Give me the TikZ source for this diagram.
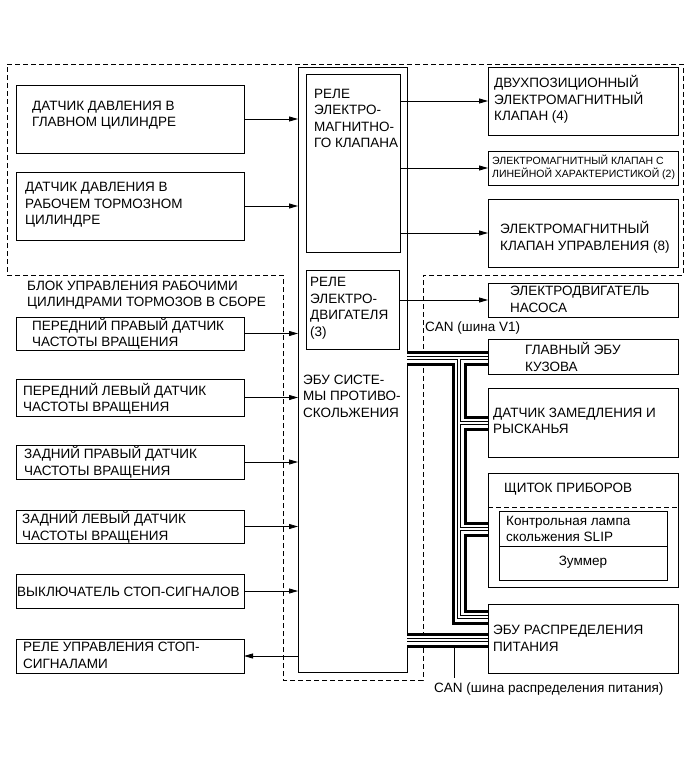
\documentclass[tikz,border=0pt]{standalone}
\usepackage{fontspec}
\setmainfont{Liberation Sans}
\usetikzlibrary{arrows.meta}
\newcommand\mkbox[5]{\node[box, minimum width={(#4-#2)*1pt}, minimum height={(#5-#3)*1pt}] (#1) at (#2,#3) {};}
\begin{document}
\begin{tikzpicture}[x=1pt,y=-1pt,
  box/.style={draw, line width=0.9pt, inner sep=0pt, outer sep=0pt, anchor=north west},
  txt/.style={anchor=west, align=left, inner sep=0pt, font=\fontsize{13.5}{16.5}\selectfont},
  small/.style={anchor=west, align=left, inner sep=0pt, font=\fontsize{10.5}{13}\selectfont},
  arr/.style={line width=0.8pt, -{Triangle[length=9pt,width=5pt]}},
  dashline/.style={line width=0.9pt, dash pattern=on 5pt off 3pt},
  busblack/.style={line width=15pt, black},
  buswhite/.style={line width=9pt, white},
  buscore/.style={line width=3.4pt, black},
  buscorew/.style={line width=1.2pt, white},
]
\useasboundingbox (0,0) rectangle (691,759);
\fill[white] (0,0) rectangle (691,759);

% dashed outline
\draw[dashline] (7,64) -- (683,64) -- (683,275) -- (423,275) -- (423,680) -- (283,680) -- (283,275) -- (7,275) -- cycle;

% boxes
\mkbox{L1}{16}{85}{244}{153}
\mkbox{L2}{16}{172}{244}{240}
\mkbox{L3}{16}{317}{244}{350}
\mkbox{L4}{16}{379}{244}{416}
\mkbox{L5}{16}{445}{244}{479}
\mkbox{L6}{16}{510}{244}{543}
\mkbox{L7}{16}{574}{244}{608}
\mkbox{L8}{16}{639}{244}{673}
\mkbox{ecu}{298}{67}{407}{672}
\mkbox{rel1}{306}{74}{400}{252}
\mkbox{rel2}{306}{270}{399}{349}
\mkbox{R1}{488}{67}{678}{135}
\mkbox{R2}{488}{151}{678}{185}
\mkbox{R3}{488}{199}{678}{267}
\mkbox{R4}{488}{283}{678}{317}
\mkbox{R5}{488}{339}{678}{374}
\mkbox{R6}{488}{388}{678}{457}
\mkbox{R7}{488}{473}{678}{587}
\mkbox{lamp}{499}{511}{667}{580}
\mkbox{R8}{488}{604}{678}{673}

\draw[dashline] (R7.west |- 0,507) -- (R7.east |- 0,507);
\draw[line width=0.9pt] (lamp.west |- 0,546) -- (lamp.east |- 0,546);

% texts
\node[txt] (t1) at (32,115) {ДАТЧИК ДАВЛЕНИЯ В\\ГЛАВНОМ ЦИЛИНДРЕ};
\node[txt] (t2) at (25,205) {ДАТЧИК ДАВЛЕНИЯ В\\РАБОЧЕМ ТОРМОЗНОМ\\ЦИЛИНДРЕ};
\node[txt] (blk) at (27,295) {БЛОК УПРАВЛЕНИЯ РАБОЧИМИ\\ЦИЛИНДРАМИ ТОРМОЗОВ В СБОРЕ};
\node[txt] (t3) at (32,333.5) {ПЕРЕДНИЙ ПРАВЫЙ ДАТЧИК\\ЧАСТОТЫ ВРАЩЕНИЯ};
\node[txt] (t4) at (23,398.5) {ПЕРЕДНИЙ ЛЕВЫЙ ДАТЧИК\\ЧАСТОТЫ ВРАЩЕНИЯ};
\node[txt] (t5) at (24,462) {ЗАДНИЙ ПРАВЫЙ ДАТЧИК\\ЧАСТОТЫ ВРАЩЕНИЯ};
\node[txt] (t6) at (22,527) {ЗАДНИЙ ЛЕВЫЙ ДАТЧИК\\ЧАСТОТЫ ВРАЩЕНИЯ};
\node[txt] (t7) at (17,592) {ВЫКЛЮЧАТЕЛЬ СТОП-СИГНАЛОВ};
\node[txt] (t8) at (23,655.5) {РЕЛЕ УПРАВЛЕНИЯ СТОП-\\СИГНАЛАМИ};
\node[txt] (tr1) at (314,118.5) {РЕЛЕ\\ЭЛЕКТРО-\\МАГНИТНО-\\ГО КЛАПАНА};
\node[txt] (tr2) at (310,308.5) {РЕЛЕ\\ЭЛЕКТРО-\\ДВИГАТЕЛЯ\\(3)};
\node[txt] (tecu) at (303,396) {ЭБУ СИСТЕ-\\МЫ ПРОТИВО-\\СКОЛЬЖЕНИЯ};
\node[txt] (tR1) at (494,99.5) {ДВУХПОЗИЦИОННЫЙ\\ЭЛЕКТРОМАГНИТНЫЙ\\КЛАПАН (4)};
\node[small] (tR2) at (492,167.5) {ЭЛЕКТРОМАГНИТНЫЙ КЛАПАН С\\ЛИНЕЙНОЙ ХАРАКТЕРИСТИКОЙ (2)};
\node[txt] (tR3) at (500,237.5) {ЭЛЕКТРОМАГНИТНЫЙ\\КЛАПАН УПРАВЛЕНИЯ (8)};
\node[txt] (tR4) at (510,299.5) {ЭЛЕКТРОДВИГАТЕЛЬ\\НАСОСА};
\node[txt] (tR5) at (525,357) {ГЛАВНЫЙ ЭБУ\\КУЗОВА};
\node[txt] (tR6) at (493,421) {ДАТЧИК ЗАМЕДЛЕНИЯ И\\РЫСКАНЬЯ};
\node[txt] (tR7) at (504,489) {ЩИТОК ПРИБОРОВ};
\node[txt] (tlamp) at (506,529) {Контрольная лампа\\скольжения SLIP};
\node[inner sep=0pt, font=\fontsize{13.5}{16.5}\selectfont] (tzum) at (583,562) {Зуммер};
\node[txt] (tR8) at (493,638.5) {ЭБУ РАСПРЕДЕЛЕНИЯ\\ПИТАНИЯ};
\node[txt] (canv) at (425,328) {CAN (шина V1)};
\node[txt] (canp) at (434,689) {CAN (шина распределения питания)};

% arrows
\foreach \n in {L1,L2,L3,L4,L5,L6,L7}
  \draw[arr] (\n.east) -- (ecu.west |- \n.east);
\draw[arr] (ecu.west |- L8.east) -- (L8.east);
\foreach \n in {R1,R2,R3}
  \draw[arr] (rel1.east |- \n.west) -- (\n.west);
\draw[arr] (rel2.east |- R4.west) -- (R4.west);

% CAN buses
\coordinate (b1s) at (ecu.east |- 0,358);
\coordinate (b1e) at (R5.west |- 0,358);
\coordinate (jt) at (459,358);
\coordinate (jb) at (459,617);
\coordinate (b8) at (R8.west |- 0,617);
\coordinate (j6) at (459,423);
\coordinate (e6) at (R6.west |- 0,423);
\coordinate (j7) at (459,529);
\coordinate (e7) at (R7.west |- 0,529);
\coordinate (b2s) at (ecu.east |- 0,640);
\coordinate (b2e) at (R8.west |- 0,640);
\foreach \st in {busblack,buswhite,buscore,buscorew}
  \draw[\st] (b1s) -- (b1e) (jt) -- (jb) -- (b8) (j6) -- (e6) (j7) -- (e7) (b2s) -- (b2e);

\coordinate (ldtop) at (454,647);
\coordinate (ldbot) at (454,678);
\draw[line width=0.8pt] (ldtop) -- (ldbot);
\end{tikzpicture}
\end{document}
